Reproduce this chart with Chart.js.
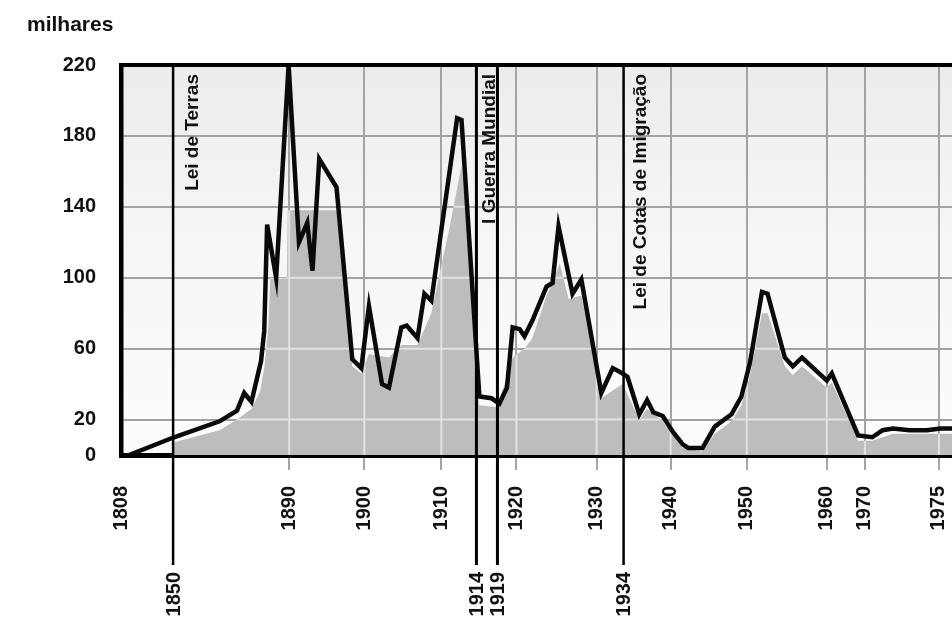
<!DOCTYPE html>
<html>
<head>
<meta charset="utf-8">
<script src="https://cdn.jsdelivr.net/npm/chart.js@4.4.1/dist/chart.umd.min.js"></script>
<style>
  html, body { margin: 0; padding: 0; background: #ffffff; }
  #wrap { width: 952px; height: 621px; position: relative; }
</style>
</head>
<body>
<div id="wrap"><canvas id="chart"></canvas></div>
<script>
// ---------------- DATA ----------------
// Immigration, thousands ("milhares"); x = year as placed on the chart's axis
const lineYears = [1814.5, 1850.3, 1866, 1872, 1874.5, 1877, 1880.3, 1881.4, 1882.4, 1885.5,
  1889.8, 1891.3, 1892.4, 1893.1, 1894, 1896.3, 1898.4, 1899.6, 1900.6, 1902.3,
  1903.2, 1904.8, 1905.5, 1906.9, 1907.8, 1908.7, 1911.8, 1912.3, 1914.7, 1917.6,
  1919.1, 1919.5, 1919.8, 1920.4, 1921, 1922, 1923.75, 1924.5, 1925.25, 1927,
  1928.1, 1930.7, 1932.4, 1933.85, 1934.5, 1936, 1937, 1937.8, 1939, 1940.3,
  1941.6, 1942.3, 1944.2, 1945.8, 1948, 1949.3, 1950.4, 1951.9, 1952.6, 1954.75,
  1955.75, 1956.9, 1960, 1961.3, 1968.2, 1970.5, 1971.2, 1971.9, 1973, 1974.2,
  1975.1, 1976];
const lineValues = [0, 10, 19, 25, 35, 30, 53, 70, 130, 100,
  220, 120, 131, 104, 167, 151, 54, 49, 84, 40,
  38, 72, 73, 66, 91, 87, 190, 189, 33, 32,
  29, 38, 72, 71, 67, 76, 95, 97, 129, 91,
  99, 35, 49, 46, 44, 23, 31, 24, 22, 13,
  6, 4, 4, 16, 23, 33, 52, 92, 91, 55,
  50, 55, 42, 46, 11, 10, 14, 15, 14, 14,
  15, 15];

// grey shaded area (its own, smoother outline in the picture)
const areaYears = [1850, 1866, 1872, 1877, 1880, 1881.5, 1882.8, 1883.5, 1889.2, 1889.5,
  1896.3, 1897, 1898.4, 1899.6, 1900.6, 1903.2, 1904.8, 1906.9, 1908.7, 1911,
  1912.3, 1913.2, 1914, 1914.7, 1919, 1919.8, 1921, 1922, 1923.75, 1924.5,
  1925.4, 1926.5, 1928.1, 1930.7, 1933.85, 1936, 1937, 1939, 1941.6, 1944.2,
  1945.8, 1948, 1949.3, 1950.4, 1951.9, 1952.6, 1954.75, 1955.75, 1956.9, 1960,
  1961.3, 1968.2, 1970.5, 1971.9, 1976];
const areaValues = [7, 14, 20, 26, 36, 50, 72, 100, 100, 138,
  138, 110, 50, 46, 57, 55, 62, 62, 80, 130,
  163, 120, 40, 28, 27, 55, 60, 66, 90, 97,
  108, 88, 90, 32, 40, 20, 26, 19, 4, 2,
  12, 19, 28, 45, 80, 80, 50, 45, 50, 38,
  41, 8, 8, 12, 12];

const tickYears = [1808, 1890, 1900, 1910, 1920, 1930, 1940, 1950, 1960, 1970, 1975];
const yTicks = [0, 20, 60, 100, 140, 180, 220];
const eventYears = [1850, 1914, 1919, 1934];
const eventTexts = ['Lei de Terras', 'I Guerra Mundial', '', 'Lei de Cotas de Imigração'];
const unitLabel = 'milhares';

// ---------------- custom broken (piecewise linear) year axis ----------------
const FONT = '"Liberation Sans", Arial, Helvetica, sans-serif';
Chart.defaults.font.family = FONT;

class BrokenYearScale extends Chart.LinearScale {
  _breaks() {
    // axis layout: year -> fraction of the axis length (the original axis is not uniform)
    return [[1808, 0], [1850, 0.0627], [1890, 0.2024], [1900, 0.2928], [1910, 0.3855],
            [1914, 0.4277], [1919, 0.4530], [1920, 0.4759], [1930, 0.5723], [1934, 0.6048],
            [1940, 0.6614], [1950, 0.7530], [1960, 0.8494], [1970, 0.8952], [1975, 0.9843],
            [1976, 1]];
  }
  _frac(v) {
    const b = this._breaks();
    let i = 0;
    while (i < b.length - 2 && v > b[i + 1][0]) i++;
    const [y0, f0] = b[i], [y1, f1] = b[i + 1];
    return f0 + (v - y0) * (f1 - f0) / (y1 - y0);
  }
  getPixelForValue(v) {
    return this.left + this._frac(v) * this.width;
  }
  getValueForPixel(p) {
    const b = this._breaks();
    const f = (p - this.left) / this.width;
    let i = 0;
    while (i < b.length - 2 && f > b[i + 1][1]) i++;
    const [y0, f0] = b[i], [y1, f1] = b[i + 1];
    return y0 + (f - f0) * (y1 - y0) / (f1 - f0);
  }
}
BrokenYearScale.id = 'brokenYear';
BrokenYearScale.defaults = {};
Chart.register(BrokenYearScale);

const GRID = '#a3a3a3';
const INNER_GRID = '#e2e2e2';
const FILL = '#bdbdbd';

const decor = {
  id: 'decor',
  beforeDraw(chart) {
    const { ctx, chartArea: a } = chart;
    ctx.save();
    const g = ctx.createLinearGradient(0, a.top, 0, a.bottom);
    g.addColorStop(0, '#ececec');
    g.addColorStop(0.45, '#f6f6f6');
    g.addColorStop(1, '#fcfcfc');
    ctx.fillStyle = g;
    ctx.fillRect(a.left, a.top, a.right - a.left, a.bottom - a.top);
    ctx.font = 'bold 21px ' + FONT;
    ctx.fillStyle = '#111';
    ctx.textBaseline = 'alphabetic';
    ctx.textAlign = 'left';
    ctx.fillText(unitLabel, 27, 31);
    ctx.restore();
  },
  afterDatasetDraw(chart, args) {
    if (args.index !== 1) return;
    const { ctx, chartArea: a } = chart;
    const xs = chart.scales.x, ys = chart.scales.y;
    const pts = args.meta.data;
    if (!pts.length) return;
    const base = ys.getPixelForValue(0);
    ctx.save();
    ctx.beginPath();
    ctx.moveTo(pts[0].x, base);
    pts.forEach(p => ctx.lineTo(p.x, p.y));
    ctx.lineTo(pts[pts.length - 1].x, base);
    ctx.closePath();
    ctx.clip();
    ctx.strokeStyle = INNER_GRID;
    ctx.lineWidth = 2;
    tickYears.forEach(t => {
      if (t === xs.min) return;
      const px = xs.getPixelForValue(t);
      ctx.beginPath(); ctx.moveTo(px, a.top); ctx.lineTo(px, a.bottom); ctx.stroke();
    });
    yTicks.forEach(v => {
      if (v === ys.min || v === ys.max) return;
      const py = ys.getPixelForValue(v);
      ctx.beginPath(); ctx.moveTo(a.left, py); ctx.lineTo(a.right, py); ctx.stroke();
    });
    ctx.restore();
  },
  afterDraw(chart) {
    const { ctx, chartArea: a } = chart;
    const xs = chart.scales.x;
    ctx.save();
    // top frame line
    ctx.strokeStyle = '#000';
    ctx.lineWidth = 4;
    ctx.beginPath(); ctx.moveTo(a.left - 2, a.top); ctx.lineTo(a.right, a.top); ctx.stroke();
    // event lines with their years and texts
    const widths = [2.5, 3, 3, 2.5];
    const textOffsets = [20, 13, 0, 17];
    eventYears.forEach((yr, i) => {
      const px = xs.getPixelForValue(yr);
      ctx.strokeStyle = '#000';
      ctx.lineWidth = widths[i];
      ctx.beginPath(); ctx.moveTo(px, a.top); ctx.lineTo(px, a.bottom + 110); ctx.stroke();
      ctx.fillStyle = '#111';
      ctx.font = 'bold 20px ' + FONT;
      ctx.save();
      ctx.translate(px, a.bottom + 117);
      ctx.rotate(-Math.PI / 2);
      ctx.textAlign = 'right';
      ctx.textBaseline = 'middle';
      ctx.fillText(String(yr), 0, 1);
      ctx.restore();
      if (eventTexts[i]) {
        ctx.save();
        ctx.font = 'bold 19px ' + FONT;
        ctx.translate(px + textOffsets[i], a.top + 9);
        ctx.rotate(-Math.PI / 2);
        ctx.textAlign = 'right';
        ctx.textBaseline = 'middle';
        ctx.fillText(eventTexts[i], 0, 0);
        ctx.restore();
      }
    });
    ctx.restore();
  }
};

new Chart(document.getElementById('chart'), {
  type: 'line',
  data: {
    datasets: [
      {
        label: 'Imigração',
        data: lineYears.map((yr, i) => ({ x: yr, y: lineValues[i] })),
        borderColor: '#0a0a0a',
        borderWidth: 4.5,
        borderJoinStyle: 'miter',
        pointRadius: 0,
        tension: 0,
        fill: false,
        order: 0
      },
      {
        label: 'área',
        data: areaYears.map((yr, i) => ({ x: yr, y: areaValues[i] })),
        borderWidth: 0,
        borderColor: 'rgba(0,0,0,0)',
        backgroundColor: FILL,
        pointRadius: 0,
        tension: 0,
        fill: 'origin',
        order: 1
      }
    ]
  },
  options: {
    responsive: true,
    maintainAspectRatio: false,
    animation: false,
    layout: { padding: { top: 65, left: 0, right: 0, bottom: 0 } },
    plugins: { legend: { display: false }, tooltip: { enabled: false }, title: { display: false } },
    scales: {
      x: {
        type: 'brokenYear',
        min: 1808,
        max: 1976,
        afterBuildTicks: s => { s.ticks = tickYears.map(v => ({ value: v })); },
        afterFit: s => { s.height = 166; s.paddingLeft = 0; s.paddingRight = 0; },
        ticks: {
          autoSkip: false, minRotation: 90, maxRotation: 90, padding: 16,
          color: '#111', font: { size: 20, weight: 'bold' },
          callback: v => String(v)
        },
        grid: {
          color: c => (c.tick && c.tick.value === 1808) ? 'rgba(0,0,0,0)' : GRID,
          tickColor: c => (c.tick && c.tick.value === 1808) ? 'rgba(0,0,0,0)' : GRID,
          lineWidth: 2, tickWidth: 2, tickLength: 15
        },
        border: { color: '#000', width: 5 }
      },
      y: {
        min: 0,
        max: 220,
        afterBuildTicks: s => { s.ticks = yTicks.map(v => ({ value: v })); },
        afterFit: s => { s.width = 121; s.paddingTop = 0; s.paddingBottom = 0; },
        ticks: { padding: 25, color: '#111', font: { size: 20, weight: 'bold' }, callback: v => String(v) },
        grid: {
          color: c => (c.tick && (c.tick.value === 0 || c.tick.value === 220)) ? 'rgba(0,0,0,0)' : GRID,
          lineWidth: 2, drawTicks: false
        },
        border: { color: '#000', width: 4.5 }
      }
    }
  },
  plugins: [decor]
});
</script>
</body>
</html>
